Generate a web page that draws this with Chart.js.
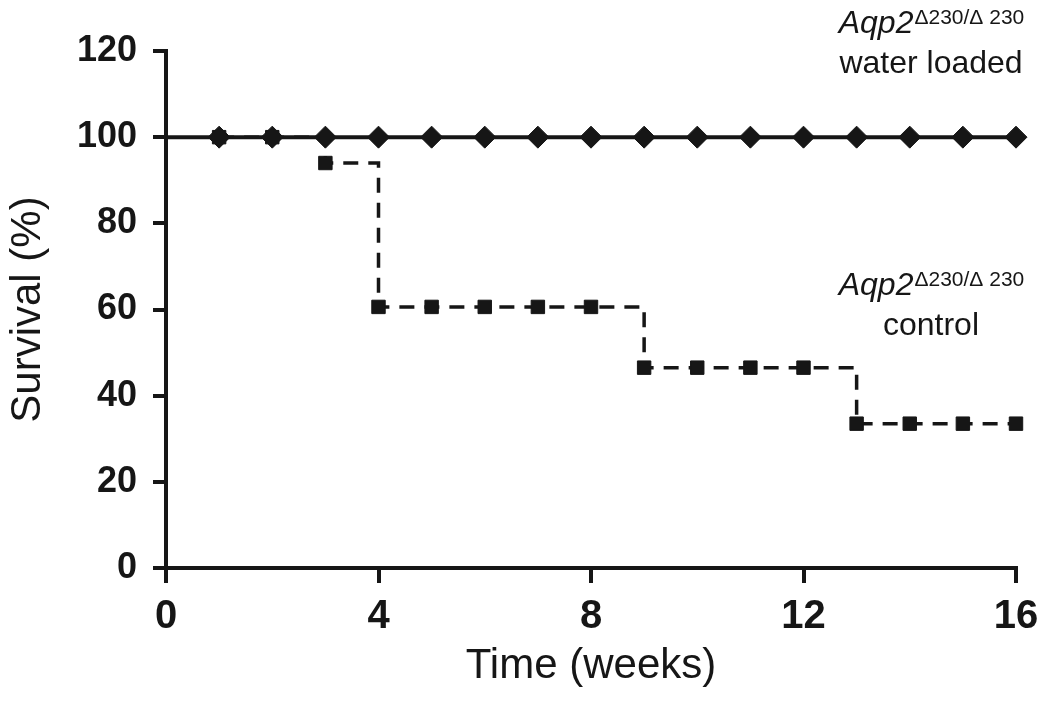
<!DOCTYPE html>
<html lang="en">
  <head>
    <meta charset="UTF-8">
    <script src="https://cdn.jsdelivr.net/npm/chart.js"></script>
    <title>Survival</title>
    <style>
      html, body { margin: 0; padding: 0; background: #fff; overflow: hidden; }
      canvas { display: block; }
    </style>
  </head>
  <body>
    <canvas id="myChart" width="1050" height="702"></canvas>
    <script>
        // weeks and survival (%)
        const waterWeeks = [0, 1, 2, 3, 4, 5, 6, 7, 8, 9, 10, 11, 12, 13, 14, 15, 16];
        const waterSurvival = [100, 100, 100, 100, 100, 100, 100, 100, 100, 100, 100, 100, 100, 100, 100, 100, 100];
        const controlWeeks = [1, 2, 3, 4, 5, 6, 7, 8, 9, 10, 11, 12, 13, 14, 15, 16];
        const controlSurvival = [100, 100, 94, 60.6, 60.6, 60.6, 60.6, 60.6, 46.5, 46.5, 46.5, 46.5, 33.5, 33.5, 33.5, 33.5];
        const xTicks = [0, 4, 8, 12, 16];
        const yTicks = [0, 20, 40, 60, 80, 100, 120];

        // group labels: [week, survival] anchor of each text block
        const labelGenotype = 'Aqp2';
        const labelSup = '\u0394230/\u0394 230';
        const groupNames = ['water loaded', 'control'];
        const groupAnchors = [[14.4, 124.2], [14.4, 63.4]];

        const ink = '#161616';
        const toPoints = (xs, ys) => xs.map((x, i) => ({x: x, y: ys[i]}));

        const groupLabels = {
          id: 'groupLabels',
          afterDraw(chart) {
            const c = chart.ctx;
            const xs = chart.scales.x, ys = chart.scales.y;
            c.save();
            c.fillStyle = ink;
            c.textBaseline = 'alphabetic';
            groupAnchors.forEach((a, i) => {
              const cx = xs.getPixelForValue(a[0]);
              const by = ys.getPixelForValue(a[1]);
              c.font = 'italic 32px "Liberation Sans", Arial, sans-serif';
              const w1 = c.measureText(labelGenotype).width;
              c.font = '21px "Liberation Sans", Arial, sans-serif';
              const w2 = c.measureText(labelSup).width;
              let left = cx - (w1 + w2) / 2;
              c.textAlign = 'left';
              c.font = 'italic 32px "Liberation Sans", Arial, sans-serif';
              c.fillText(labelGenotype, left, by);
              c.font = '21px "Liberation Sans", Arial, sans-serif';
              c.fillText(labelSup, left + w1 + 1, by - 9);
              c.textAlign = 'center';
              c.font = '32px "Liberation Sans", Arial, sans-serif';
              c.fillText(groupNames[i], cx, by + 40);
            });
            c.restore();
          }
        };

        const ctx = document.getElementById('myChart');
        new Chart(ctx, {
          type: 'line',
          data: {
            datasets: [{
              label: 'water loaded',
              data: toPoints(waterWeeks, waterSurvival),
              borderColor: ink,
              backgroundColor: ink,
              borderWidth: 4,
              pointStyle: 'rectRot',
              pointRadius: waterWeeks.map(w => w === 0 ? 0 : 11),
              pointBorderWidth: 1,
              clip: false,
              order: 1
            }, {
              label: 'control',
              data: toPoints(controlWeeks, controlSurvival),
              borderColor: ink,
              backgroundColor: ink,
              borderWidth: 3.5,
              borderDash: [15, 10],
              stepped: true,
              pointStyle: 'rect',
              pointRadius: 9.5,
              pointBorderWidth: 1,
              clip: false,
              order: 2
            }]
          },
          options: {
            responsive: false,
            animation: false,
            devicePixelRatio: 1,
            layout: { padding: { left: 0, top: 51, right: 34, bottom: 0 } },
            plugins: { legend: { display: false }, tooltip: { enabled: false } },
            scales: {
              x: {
                type: 'linear',
                min: 0, max: 16,
                afterBuildTicks: s => { s.ticks = xTicks.map(v => ({value: v})); },
                afterFit: s => { s.height = 134; },
                grid: { drawOnChartArea: false, drawTicks: true, tickLength: 15, color: ink, lineWidth: 4 },
                border: { color: ink, width: 4 },
                ticks: { color: ink, padding: 10, font: { family: '"Liberation Sans", Arial', size: 40, weight: 'bold' } },
                title: { display: true, text: 'Time (weeks)', color: ink, padding: { top: 0, bottom: 10 },
                         font: { family: '"Liberation Sans", Arial', size: 42 } }
              },
              y: {
                min: 0, max: 120,
                afterBuildTicks: s => { s.ticks = yTicks.map(v => ({value: v})); },
                afterFit: s => { s.width = 166; },
                grid: { drawOnChartArea: false, drawTicks: true, tickLength: 13, color: ink, lineWidth: 4 },
                border: { color: ink, width: 4 },
                ticks: { color: ink, padding: 16, font: { family: '"Liberation Sans", Arial', size: 36, weight: 'bold' } },
                title: { display: true, text: 'Survival (%)', color: ink, padding: { top: 3, bottom: 0 },
                         font: { family: '"Liberation Sans", Arial', size: 42 } }
              }
            }
          },
          plugins: [groupLabels]
        });
    </script>
  </body>
</html>
